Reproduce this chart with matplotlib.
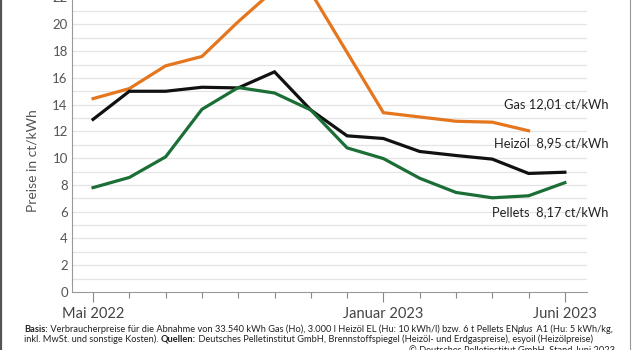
import numpy as np
import matplotlib
matplotlib.use("Agg")
import matplotlib.pyplot as plt
from matplotlib.lines import Line2D

plt.rcParams['font.family'] = ['Lato', 'DejaVu Sans']

# Monate Mai 2022 .. Juni 2023
months = ["Mai 2022", "Jun", "Jul", "Aug", "Sep", "Okt", "Nov", "Dez",
          "Januar 2023", "Feb", "Mär", "Apr", "Mai", "Juni 2023"]
shown_labels = ["Mai 2022", "Januar 2023", "Juni 2023"]

gas = [14.45, 15.2, 16.9, 17.6, 20.2, 22.6, 22.4, 17.9, 13.4, 13.08, 12.76, 12.69, 12.05]
heizoel = [12.9, 15.0, 15.0, 15.3, 15.25, 16.45, 13.6, 11.67, 11.47, 10.5, 10.2, 9.93, 8.86, 8.95]
pellets = [7.8, 8.56, 10.1, 13.65, 15.28, 14.87, 13.6, 10.77, 9.97, 8.5, 7.44, 7.04, 7.19, 8.17]

end_labels = ["Gas 12,01 ct/kWh", "Heizöl  8,95 ct/kWh", "Pellets  8,17 ct/kWh"]

c_gas = '#e5761e'
c_oel = '#111111'
c_pel = '#1b6e36'

W, H = 640, 350
fig = plt.figure(figsize=(6.4, 3.5), dpi=100)
ax = fig.add_axes([72/W, 1-292/H, 515/W, 292/H])

x = np.arange(len(months))
ax.plot(x[:len(gas)], gas, color=c_gas, lw=2.3, solid_joinstyle='miter', zorder=3)
ax.plot(x, heizoel, color=c_oel, lw=2.3, solid_joinstyle='miter', zorder=3)
ax.plot(x, pellets, color=c_pel, lw=2.3, solid_joinstyle='miter', zorder=3)

ax.set_xlim(-0.58, 13.61)
ax.set_ylim(0, 21.82)

# grid every unit, labels every 2
for v in range(1, 22):
    ax.axhline(v, color='#e4e4e4', lw=0.9, zorder=1)
ax.set_yticks(range(0, 21, 2))
ax.tick_params(axis='y', length=0, pad=3, labelsize=9.5, labelcolor='#555555')
ax.text(-0.008, 22, '22', transform=ax.get_yaxis_transform(), ha='right',
        va='center', fontsize=9.5, color='#555555', clip_on=False)

major = [months.index(m) for m in shown_labels]
minor = [i for i in range(len(months)) if i not in major]
ax.set_xticks(major)
ax.set_xticklabels(shown_labels)
ax.set_xticks(minor, minor=True)
ax.tick_params(axis='x', which='major', length=7.5, width=0.8, color='#888888',
               pad=3, labelsize=10.5, labelcolor='#444444')
ax.tick_params(axis='x', which='minor', length=4.3, width=0.8, color='#888888')

for s in ['top', 'right']:
    ax.spines[s].set_visible(False)
for s in ['left', 'bottom']:
    ax.spines[s].set_color('#999999')
    ax.spines[s].set_linewidth(0.8)

ax.set_ylabel("Preise in ct/kWh", fontsize=10, color='#555555')
ax.yaxis.set_label_coords(-0.066, 0.45)

# end labels (pixel rows from the top)
for lab, py in zip(end_labels, [104, 143, 212]):
    fig.text(608/W, 1 - py/H, lab, fontsize=9.3, color='#222222',
             ha='right', va='center')

# footnote, mixed styles
renderer = fig.canvas.get_renderer()

def rich_line(x0, y0, pieces, size):
    xx = x0
    made = []
    for txt, w, st in pieces:
        t = fig.text(xx, y0, txt, fontsize=size, fontweight=w, fontstyle=st,
                     color='#222222', ha='left', va='center')
        made.append(t)
        bb = t.get_window_extent(renderer=renderer)
        xx += bb.width / fig.bbox.width
    return made, (xx - x0) * W

line1 = [("Basis:", 'bold', 'normal'),
         (" Verbraucherpreise für die Abnahme von 33.540 kWh Gas (Ho), 3.000 l Heizöl EL (Hu: 10 kWh/l) bzw. 6 t Pellets EN", 'normal', 'normal'),
         ("plus", 'normal', 'italic'),
         (" A1 (Hu: 5 kWh/kg,", 'normal', 'normal')]
line2 = [("inkl. MwSt. und sonstige Kosten). ", 'normal', 'normal'),
         ("Quellen:", 'bold', 'normal'),
         (" Deutsches Pelletinstitut GmbH, Brennstoffspiegel (Heizöl- und Erdgaspreise), esyoil (Heizölpreise)", 'normal', 'normal')]

# fit first line to about 591 px, as in the original
size = 6.7
for _ in range(4):
    made, width = rich_line(24/W, 1-329/H, line1, size)
    if abs(width - 591) < 3:
        break
    for t in made:
        t.remove()
    size *= 591 / width
rich_line(24/W, 1-339/H, line2, size)
fig.text(615/W, 1-351/H, "© Deutsches Pelletinstitut GmbH, Stand Juni 2023",
         fontsize=size, color='#222222', ha='right', va='center')

# image frame
fig.add_artist(Line2D([0.0015, 0.0015], [0, 1], transform=fig.transFigure,
                      color='#555555', lw=1.6))
fig.add_artist(Line2D([630/W, 630/W], [0, 1], transform=fig.transFigure,
                      color='#999999', lw=0.8))

fig.savefig("out.png", dpi=100)
